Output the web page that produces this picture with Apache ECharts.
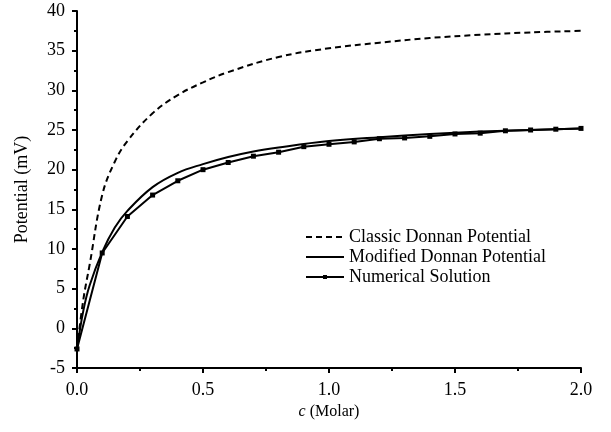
<!DOCTYPE html>
<html>
<head>
<meta charset="utf-8">
<script src="https://cdn.jsdelivr.net/npm/echarts@6/dist/echarts.min.js"></script>
<style>
  html, body { margin: 0; padding: 0; background: #fff; }
  #chart { width: 611px; height: 432px; }
</style>
</head>
<body>
<div id="chart"></div>
<script>
// concentration c (Molar)
var classicC = [0, 0.025, 0.05, 0.1, 0.15, 0.2, 0.3, 0.4, 0.5, 0.6, 0.8, 1.0, 1.2, 1.4, 1.6, 1.8, 2.0];
var classicV = [-2.6, 3.6, 8.0, 16.8, 21.0, 23.6, 27.1, 29.4, 31.0, 32.3, 34.2, 35.3, 36.0, 36.6, 37.0, 37.3, 37.5];

var modifiedC = [0, 0.025, 0.05, 0.1, 0.15, 0.2, 0.3, 0.4, 0.5, 0.6, 0.7, 0.8, 1.0, 1.2, 1.4, 1.6, 1.8, 2.0];
var modifiedV = [-2.6, 2.2, 5.4, 9.6, 12.7, 14.8, 17.8, 19.6, 20.7, 21.6, 22.3, 22.8, 23.6, 24.1, 24.5, 24.8, 25.0, 25.2];

var numericalC = [0, 0.1, 0.2, 0.3, 0.4, 0.5, 0.6, 0.7, 0.8, 0.9, 1.0, 1.1, 1.2, 1.3, 1.4, 1.5, 1.6, 1.7, 1.8, 1.9, 2.0];
var numericalV = [-2.6, 9.5, 14.1, 16.8, 18.6, 20.0, 20.9, 21.7, 22.2, 22.9, 23.2, 23.5, 23.9, 24.0, 24.2, 24.5, 24.6, 24.9, 25.0, 25.1, 25.2];

var seriesNames = ['Classic Donnan Potential', 'Modified Donnan Potential', 'Numerical Solution'];

function pairs(xs, ys) {
  return xs.map(function (x, i) { return [x, ys[i]]; });
}

var font = '"Liberation Serif", "DejaVu Serif", serif';

var chart = echarts.init(document.getElementById('chart'));
var option = {
  backgroundColor: '#fff',
  animation: false,
  textStyle: { fontFamily: font, color: '#000' },
  grid: { left: 77, right: 30, top: 11, bottom: 64 },
  legend: {
    // hide the symbol in the first two legend icons, keep only the line
    data: [
      { name: seriesNames[0], itemStyle: { opacity: 0 } },
      { name: seriesNames[1], itemStyle: { opacity: 0 } },
      { name: seriesNames[2] }
    ],
    orient: 'vertical',
    left: 300,
    top: 223,
    itemWidth: 38,
    itemHeight: 5,
    itemGap: 2,
    textStyle: { fontFamily: font, fontSize: 18, color: '#000' }
  },
  xAxis: {
    type: 'value',
    min: 0,
    max: 2,
    interval: 0.5,
    name: '{i|c} (Molar)',
    nameLocation: 'middle',
    nameGap: 33,
    nameTextStyle: {
      fontFamily: font, fontSize: 16, color: '#000',
      rich: { i: { fontFamily: font, fontSize: 16, fontStyle: 'italic', color: '#000' } }
    },
    axisLine: { onZero: false, lineStyle: { color: '#000', width: 2 } },
    axisTick: { show: true, length: 5, lineStyle: { color: '#000', width: 2 } },
    minorTick: { show: true, splitNumber: 2, length: 3, lineStyle: { color: '#000', width: 2 } },
    axisLabel: {
      fontFamily: font, fontSize: 18, color: '#000', margin: 13,
      formatter: function (v) { return v.toFixed(1); }
    },
    splitLine: { show: false }
  },
  yAxis: {
    type: 'value',
    min: -5,
    max: 40,
    interval: 5,
    name: 'Potential (mV)',
    nameLocation: 'middle',
    nameGap: 46,
    nameTextStyle: { fontFamily: font, fontSize: 18, color: '#000' },
    axisLine: { show: true, onZero: false, lineStyle: { color: '#000', width: 2 } },
    axisTick: { show: true, length: 5, lineStyle: { color: '#000', width: 2 } },
    minorTick: { show: true, splitNumber: 2, length: 3, lineStyle: { color: '#000', width: 2 } },
    axisLabel: { fontFamily: font, fontSize: 18, color: '#000', margin: 12 },
    splitLine: { show: false }
  },
  series: [
    {
      name: seriesNames[0],
      type: 'line',
      data: pairs(classicC, classicV),
      smooth: 0.4,
      symbol: 'none',
      lineStyle: { color: '#000', width: 2, type: [6, 4] },
      itemStyle: { color: '#000' }
    },
    {
      name: seriesNames[1],
      type: 'line',
      data: pairs(modifiedC, modifiedV),
      smooth: 0.4,
      symbol: 'none',
      lineStyle: { color: '#000', width: 2 },
      itemStyle: { color: '#000' }
    },
    {
      name: seriesNames[2],
      type: 'line',
      data: pairs(numericalC, numericalV),
      symbol: 'rect',
      symbolSize: 5,
      showAllSymbol: true,
      lineStyle: { color: '#000', width: 2 },
      itemStyle: { color: '#000' }
    }
  ]
};
chart.setOption(option);
</script>
</body>
</html>
